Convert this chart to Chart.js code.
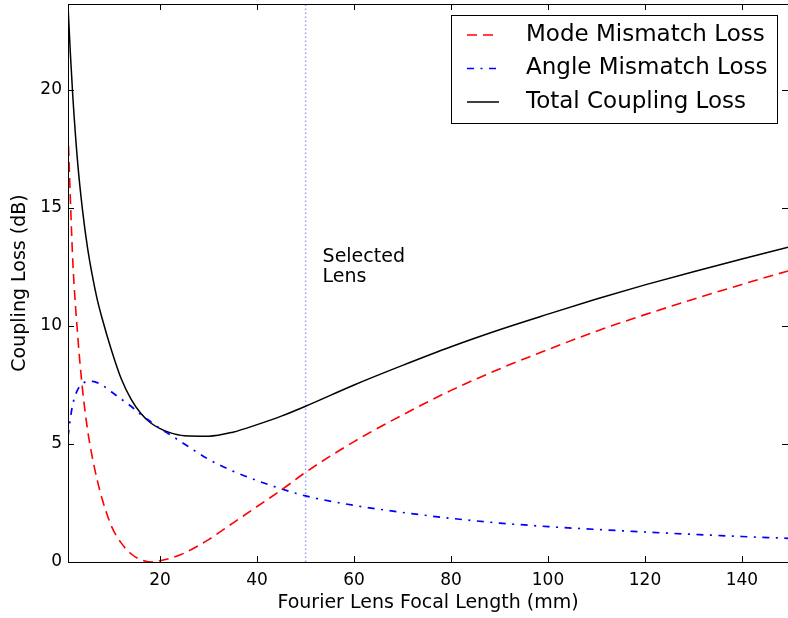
<!DOCTYPE html>
<html>
<head>
<meta charset="utf-8">
<script src="https://cdn.jsdelivr.net/npm/chart.js@4.4.0/dist/chart.umd.min.js"></script>
<style>
  body { margin: 0; background: #fff; }
  #lossChart { display: block; }
</style>
</head>
<body>
<canvas id="lossChart" width="788" height="618"></canvas>
<script>
// values (x in mm, y in dB)
const focalLength = [1, 1.5, 2, 3, 4, 5, 6, 7, 8, 10, 12, 14, 16, 18, 20, 22, 25, 30, 35, 40, 45, 50, 60, 70, 80, 90, 100, 110, 120, 130, 140, 150];
const modeLoss  = [18.3, 15.3, 12.7, 9.6, 7.3, 5.65, 4.45, 3.5, 2.7, 1.5, 0.8, 0.35, 0.1, 0.0, 0.05, 0.15, 0.38, 0.95, 1.65, 2.35, 3.05, 3.8, 5.1, 6.23, 7.27, 8.18, 9.0, 9.78, 10.48, 11.13, 11.76, 12.36];
const angleLoss = [5.3, 6.1, 6.7, 7.3, 7.55, 7.65, 7.65, 7.6, 7.5, 7.2, 6.9, 6.6, 6.25, 5.95, 5.65, 5.4, 5.0, 4.35, 3.85, 3.45, 3.1, 2.8, 2.4, 2.1, 1.85, 1.65, 1.5, 1.38, 1.27, 1.17, 1.08, 1.0];
const totalLoss = [23.6, 21.5, 19.7, 16.9, 14.9, 13.35, 12.15, 11.15, 10.35, 8.95, 7.75, 6.9, 6.3, 5.9, 5.65, 5.48, 5.35, 5.33, 5.5, 5.82, 6.18, 6.6, 7.5, 8.33, 9.12, 9.84, 10.5, 11.14, 11.74, 12.3, 12.84, 13.36];

const xTickValues = [20, 40, 60, 80, 100, 120, 140];
const yTickValues = [0, 5, 10, 15, 20];
const selectedLens = 50;
const seriesLabels = ['Mode Mismatch Loss', 'Angle Mismatch Loss', 'Total Coupling Loss'];

const FONT = "'DejaVu Sans', sans-serif";

function points(ys) {
    return focalLength.map((x, i) => ({ x: x, y: ys[i] }));
}

// frame, inward ticks, legend box, annotation
const decorations = {
    id: 'decorations',
    afterDatasetsDraw(chart) {
        const ctx = chart.ctx;
        const a = chart.chartArea;
        const xs = chart.scales.x;
        const ys = chart.scales.y;
        ctx.save();
        ctx.strokeStyle = '#000';
        ctx.lineWidth = 1;
        ctx.setLineDash([]);
        ctx.strokeRect(a.left + 0.5, a.top + 0.5, a.right - a.left, a.bottom - a.top);

        ctx.beginPath();
        xs.ticks.forEach(t => {
            const px = Math.round(xs.getPixelForValue(t.value)) + 0.5;
            ctx.moveTo(px, a.bottom); ctx.lineTo(px, a.bottom - 6);
            ctx.moveTo(px, a.top); ctx.lineTo(px, a.top + 6);
        });
        ys.ticks.forEach(t => {
            const py = Math.round(ys.getPixelForValue(t.value)) + 0.5;
            ctx.moveTo(a.left, py); ctx.lineTo(a.left + 6, py);
            ctx.moveTo(a.right, py); ctx.lineTo(a.right - 6, py);
        });
        ctx.stroke();

        // annotation next to the selected lens line
        ctx.fillStyle = '#000';
        ctx.font = '19px ' + FONT;
        ctx.textBaseline = 'middle';
        ctx.textAlign = 'left';
        const tx = xs.getPixelForValue(selectedLens) + 17;
        ctx.fillText('Selected', tx, 257);
        ctx.fillText('Lens', tx, 277);

        // legend
        const lx = 451.5, ly = 15.5, lw = 326, lh = 108;
        ctx.fillStyle = '#fff';
        ctx.fillRect(lx, ly, lw, lh);
        ctx.strokeStyle = '#000';
        ctx.lineWidth = 1;
        ctx.strokeRect(lx, ly, lw, lh);
        ctx.font = '23px ' + FONT;
        ctx.fillStyle = '#000';
        [0, 1, 2].forEach(i => {
            const ds = chart.data.datasets[i];
            const y = 35 + i * 33.5;
            ctx.beginPath();
            ctx.strokeStyle = ds.borderColor;
            ctx.lineWidth = ds.borderWidth;
            ctx.setLineDash(ds.borderDash || []);
            ctx.moveTo(467, y);
            ctx.lineTo(499, y);
            ctx.stroke();
            ctx.setLineDash([]);
            ctx.fillText(ds.label, 526, y);
        });
        ctx.restore();
    }
};

new Chart(document.getElementById('lossChart'), {
    type: 'line',
    data: {
        datasets: [
            {
                label: seriesLabels[0],
                data: points(modeLoss),
                borderColor: '#ff0000',
                borderWidth: 1.6,
                borderDash: [10, 6],
                pointRadius: 0,
                cubicInterpolationMode: 'monotone'
            },
            {
                label: seriesLabels[1],
                data: points(angleLoss),
                borderColor: '#0000ff',
                borderWidth: 1.7,
                borderDash: [7, 6.5, 2, 6.5],
                pointRadius: 0,
                cubicInterpolationMode: 'monotone'
            },
            {
                label: seriesLabels[2],
                data: points(totalLoss),
                borderColor: '#000000',
                borderWidth: 1.5,
                pointRadius: 0,
                cubicInterpolationMode: 'monotone'
            },
            {
                label: 'Selected Lens',
                data: [{ x: selectedLens, y: 0 }, { x: selectedLens, y: 23.64 }],
                borderColor: '#9a9aff',
                borderWidth: 1.5,
                borderDash: [1.5, 2.5],
                pointRadius: 0
            }
        ]
    },
    options: {
        responsive: false,
        animation: false,
        layout: { padding: { top: 4, right: 0, left: 0, bottom: 0 } },
        plugins: {
            legend: { display: false },
            tooltip: { enabled: false }
        },
        scales: {
            x: {
                type: 'linear',
                min: 1,
                max: 149.5,
                grid: { display: false, drawTicks: false },
                border: { display: false },
                ticks: {
                    padding: 8,
                    color: '#000',
                    font: { family: FONT, size: 17 },
                    maxRotation: 0,
                    autoSkip: false
                },
                afterBuildTicks: s => { s.ticks = xTickValues.map(v => ({ value: v })); },
                afterFit: s => { s.height = 56; s.paddingLeft = 0; s.paddingRight = 0; },
                title: {
                    display: true,
                    text: 'Fourier Lens Focal Length (mm)',
                    color: '#000',
                    font: { family: FONT, size: 19 },
                    padding: { top: 0, bottom: 3.5 }
                }
            },
            y: {
                min: 0,
                max: 23.64,
                grid: { display: false, drawTicks: false },
                border: { display: false },
                ticks: {
                    padding: 6,
                    color: '#000',
                    font: { family: FONT, size: 17 },
                    autoSkip: false
                },
                afterBuildTicks: s => { s.ticks = yTickValues.map(v => ({ value: v })); },
                afterFit: s => { s.width = 68; s.paddingTop = 0; s.paddingBottom = 0; },
                title: {
                    display: true,
                    text: 'Coupling Loss (dB)',
                    color: '#000',
                    font: { family: FONT, size: 19 },
                    padding: { top: 9, bottom: 0 }
                }
            }
        }
    },
    plugins: [decorations]
});
</script>
</body>
</html>
